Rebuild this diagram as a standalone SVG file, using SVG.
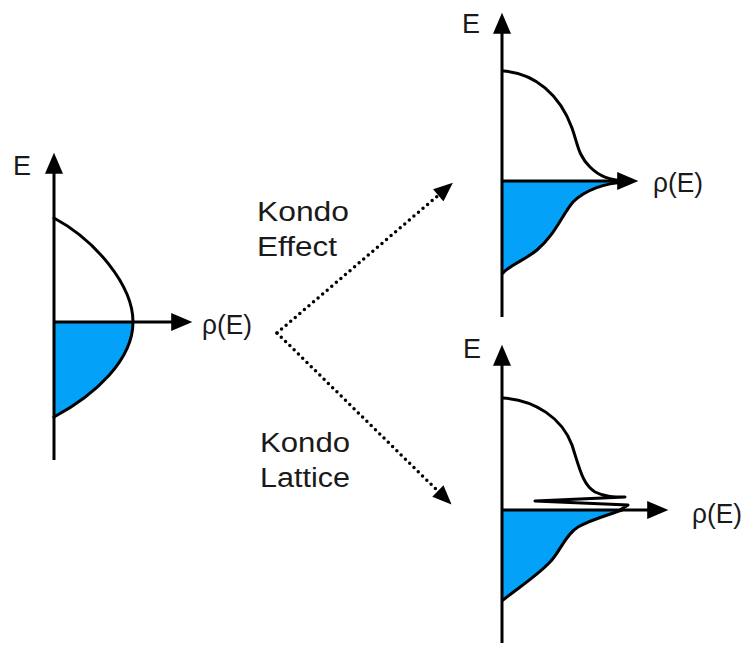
<svg xmlns="http://www.w3.org/2000/svg" width="743" height="647" viewBox="0 0 743 647">
<style>
.ax{stroke:#000;stroke-width:3;fill:none;marker-end:url(#ah)}
.cv{stroke:#000;stroke-width:3;fill:none;stroke-linejoin:round;stroke-linecap:round}
.fl{fill:#03a1f7;stroke:none}
.dot{stroke:#000;stroke-width:3.5;fill:none;stroke-dasharray:0 6;stroke-linecap:round;marker-end:url(#dh)}
text{font-family:"Liberation Sans",Arial,sans-serif;font-size:27px;fill:#1a1a1a}
</style>
<defs>
<marker id="ah" markerUnits="userSpaceOnUse" markerWidth="22" markerHeight="18" viewBox="0 0 20 17" refX="14" refY="8.5" orient="auto">
<path d="M0,0 L20,8.5 L0,17 Z" fill="#000"/>
</marker>
<marker id="dh" markerUnits="userSpaceOnUse" markerWidth="20" markerHeight="16" viewBox="0 0 18 15" refX="12" refY="7.5" orient="auto">
<path d="M0,0 L18,7.5 L0,15 Z" fill="#000"/>
</marker>
</defs>
<g id="dos-left">
<path class="fl" d="M54,322 L133,322 C133,360 95,395 54,417 Z"/>
<path class="cv" d="M54,218 C95,240 133,285 133,322 C133,360 95,395 54,417"/>
<line class="ax" x1="54" y1="460" x2="54" y2="159"/>
<line class="ax" x1="54" y1="322" x2="186" y2="322"/>
<text x="13" y="175" textLength="18" lengthAdjust="spacingAndGlyphs">E</text>
<text x="202" y="334" textLength="50" lengthAdjust="spacingAndGlyphs">ρ(E)</text>
</g>
<g id="dos-kondo-effect">
<path class="fl" d="M503,181 L625,181 C605,183 585,190 573,202 C562,215 555,235 537,250 C525,260 510,265 503,273 Z"/>
<path class="cv" d="M503,71 C535,73 560,95 572,128 C578,145 578,155 590,167 C600,177 610,180 625,181"/>
<path class="cv" d="M625,182 C605,183 585,190 573,202 C562,215 555,235 537,250 C525,260 510,265 503,273"/>
<line class="ax" x1="502" y1="317" x2="502" y2="19"/>
<line class="ax" x1="502" y1="181" x2="632" y2="181"/>
<text x="462" y="33" textLength="18" lengthAdjust="spacingAndGlyphs">E</text>
<text x="653" y="192" textLength="50" lengthAdjust="spacingAndGlyphs">ρ(E)</text>
</g>
<g id="dos-kondo-lattice">
<path class="fl" d="M503,510 L622,510 C605,516 590,520 578,527 C565,535 560,552 550,562 C538,575 518,588 503,600 Z"/>
<path class="cv" d="M503,398 C535,400 562,418 572,445 C580,470 583,485 595,492 C605,497 615,497 625,497 L535,501 L628,505 L620,510"/>
<path class="cv" d="M622,510 C605,516 590,520 578,527 C565,535 560,552 550,562 C538,575 518,588 503,600"/>
<line class="ax" x1="502" y1="643" x2="502" y2="351"/>
<line class="ax" x1="502" y1="510" x2="662" y2="510"/>
<text x="463" y="358" textLength="18" lengthAdjust="spacingAndGlyphs">E</text>
<text x="692" y="523" textLength="50" lengthAdjust="spacingAndGlyphs">ρ(E)</text>
</g>
<g id="connectors">
<path class="dot" d="M277,333 L448,187"/>
<path class="dot" d="M277,333 L447,500"/>
</g>
<g id="labels">
<text x="257" y="221" textLength="92" lengthAdjust="spacingAndGlyphs">Kondo</text>
<text x="257" y="256" textLength="80" lengthAdjust="spacingAndGlyphs">Effect</text>
<text x="260" y="452" textLength="90" lengthAdjust="spacingAndGlyphs">Kondo</text>
<text x="260" y="487" textLength="90" lengthAdjust="spacingAndGlyphs">Lattice</text>
</g>
</svg>
